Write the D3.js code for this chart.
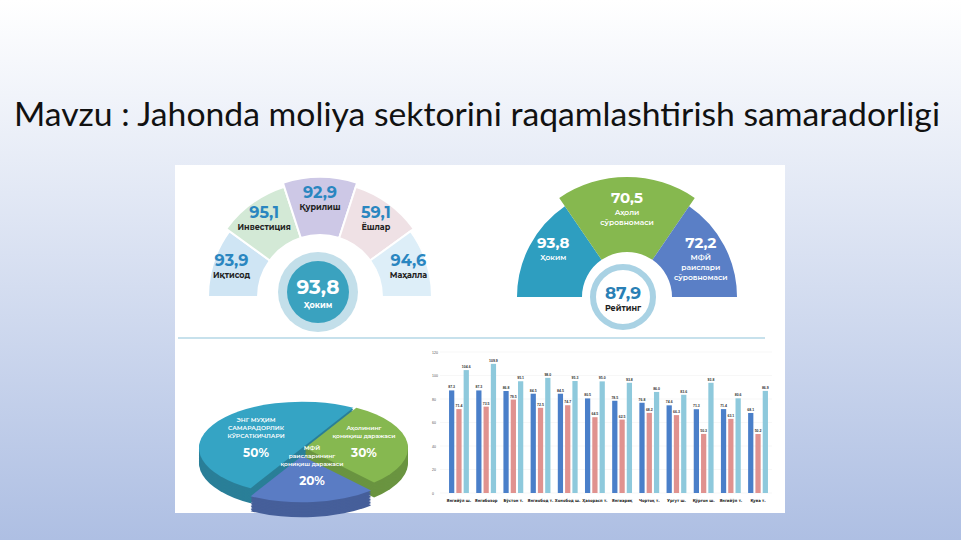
<!DOCTYPE html><html><head><meta charset="utf-8"><script src="https://cdn.jsdelivr.net/npm/d3@7"></script>
<style>body{margin:0;overflow:hidden}</style></head><body><svg id="s" width="961" height="540"></svg><script>
const title="Mavzu : Jahonda moliya sektorini raqamlashtirish samaradorligi";
const fanLabels=["Иқтисод","Инвестиция","Қурилиш","Ёшлар","Маҳалла"];
const fanValues=["93,9","95,1","92,9","59,1","94,6"];
const fanColors=["#cfe5f4","#d3e9d6","#cdc8e6","#efe1e5","#ddeef8"];
const fanCenter=["93,8","Ҳоким"];
const rLabels=[["Ҳоким"],["Аҳоли","сўровномаси"],["МФЙ","раислари","сўровномаси"]];
const rValues=["93,8","70,5","72,2"];
const rColors=["#2e9ec0","#86b84f","#5a7fc6"];
const rCenter=["87,9","Рейтинг"];
const pieLabels=[["ЭНГ МУҲИМ","САМАРАДОРЛИК","КЎРСАТКИЧЛАРИ"],["Аҳолининг","қониқиш даражаси"],["МФЙ","раисларининг","қониқиш даражаси"]];
const pieValues=[50,30,20];
const pieColors=["#35a4c4","#86b850","#5a7cc4"];
const pieSide=["#2a7f98","#6a9440","#465f9a"];
const cats=["Янгийўл ш.","Янгибозор","Бўстон т.","Янгиобод т.","Хонобод ш.","Ҳазорасп т.","Янгиариқ","Чортоқ т.","Ургут ш.","Қўрғон ш.","Янгийўл т.","Қува т."];
const s1=[87.3,87.3,86.8,84.5,84.5,80.5,78.5,76.8,74.6,71.3,71.4,68.1];
const s2=[71.4,73.5,79.5,72.5,74.7,64.5,62.5,68.2,66.3,50.3,63.1,50.2];
const s3=[104.6,109.9,95.1,98.0,95.3,95.0,93.8,86.0,83.6,93.8,80.6,86.9];
const yTicks=[0,20,40,60,80,100,120];
const sColors=["#4a7fc9","#e0928f","#8ec9dc"];

const svg=d3.select("#s");
const defs=svg.append("defs");
const g=defs.append("linearGradient").attr("id","bg").attr("x1",0).attr("y1",0).attr("x2",0).attr("y2",1);
g.append("stop").attr("offset",0).attr("stop-color","#ffffff");
g.append("stop").attr("offset",1).attr("stop-color","#aebfe3");
svg.append("rect").attr("width",961).attr("height",540).attr("fill","url(#bg)");
svg.append("text").attr("x",477).attr("y",126).attr("text-anchor","middle").attr("font-family","Lato, 'Open Sans', sans-serif").attr("font-size",33).attr("textLength",926).attr("lengthAdjust","spacingAndGlyphs").attr("fill","#111").text(title);
svg.append("rect").attr("x",175).attr("y",165).attr("width",610).attr("height",348).attr("fill","#fff");
svg.append("line").attr("x1",178).attr("x2",765).attr("y1",338).attr("y2",338).attr("stroke","#8fc3d9").attr("stroke-width",1);
const F="Montserrat, 'Open Sans', sans-serif";

// fan 1
{const cx=320,cy=297;const a=d3.scaleLinear().domain([0,5]).range([-Math.PI/2,Math.PI/2]);
const gr=svg.append("g").attr("transform",`translate(${cx},${cy})`);
const radii=[112,116,120,116,112];
fanValues.forEach((v,i)=>{
 const arc=d3.arc().innerRadius(62).outerRadius(radii[i]).startAngle(a(i)).endAngle(a(i+1));
 gr.append("path").attr("d",arc()).attr("fill",fanColors[i]).attr("stroke","#fff").attr("stroke-width",2);
 const m=(a(i)+a(i+1))/2,rr=(62+radii[i])/2+6;
 const x=Math.sin(m)*rr,y=-Math.cos(m)*rr;
 gr.append("text").attr("x",x).attr("y",y-2).attr("text-anchor","middle").attr("font-family",F).attr("font-weight",700).attr("font-size",16).attr("fill","#2a86c0").text(v);
 gr.append("text").attr("x",x).attr("y",y+10).attr("text-anchor","middle").attr("font-family",F).attr("font-weight",700).attr("font-size",8).attr("fill","#222").text(fanLabels[i]);
});
gr.append("circle").attr("cx",-2).attr("cy",-5).attr("r",40).attr("fill","#c3dfea");
gr.append("circle").attr("cx",-2).attr("cy",-5).attr("r",31).attr("fill","#3aa2bf");
gr.append("text").attr("x",-2).attr("y",-3).attr("text-anchor","middle").attr("font-family",F).attr("font-weight",700).attr("font-size",20).attr("fill","#fff").text(fanCenter[0]);
gr.append("text").attr("x",-2).attr("y",11).attr("text-anchor","middle").attr("font-family",F).attr("font-weight",700).attr("font-size",8).attr("fill","#fff").text(fanCenter[1]);}

// fan 2
{const cx=627,cy=297;const angs=[-Math.PI/2,-0.6,0.6,Math.PI/2];const radii=[110,120,110];
const gr=svg.append("g").attr("transform",`translate(${cx},${cy})`);
rValues.forEach((v,i)=>{
 const arc=d3.arc().innerRadius(45).outerRadius(radii[i]).startAngle(angs[i]).endAngle(angs[i+1]);
 gr.append("path").attr("d",arc()).attr("fill",rColors[i]);
 const m=(angs[i]+angs[i+1])/2,rr=i==1?82:80;
 const x=Math.sin(m)*rr+(i==0?-3:i==2?3:0),y=-Math.cos(m)*rr-12;
 gr.append("text").attr("x",x).attr("y",y).attr("text-anchor","middle").attr("font-family",F).attr("font-weight",700).attr("font-size",15).attr("fill","#fff").text(v);
 rLabels[i].forEach((l,j)=>gr.append("text").attr("x",x).attr("y",y+12+j*10).attr("text-anchor","middle").attr("font-family",F).attr("font-weight",600).attr("font-size",7.5).attr("fill","#fff").text(l));
});
gr.append("circle").attr("cx",-4).attr("cy",0).attr("r",38).attr("fill","#fff");
gr.append("circle").attr("cx",-4).attr("cy",0).attr("r",30).attr("fill","none").attr("stroke","#a9d2e4").attr("stroke-width",6);
gr.append("text").attr("x",-4).attr("y",2).attr("text-anchor","middle").attr("font-family",F).attr("font-weight",700).attr("font-size",17).attr("fill","#2a7fb5").text(rCenter[0]);
gr.append("text").attr("x",-4).attr("y",14).attr("text-anchor","middle").attr("font-family",F).attr("font-weight",700).attr("font-size",8).attr("fill","#222").text(rCenter[1]);}

// 3D pie
{const cx=302,cy=448,sy=0.45;const st=-2.62;
const pie=d3.pie().sort(null).startAngle(st).endAngle(st+2*Math.PI)(pieValues);
const arcT=d3.arc().innerRadius(0).outerRadius(103);
const gr=svg.append("g").attr("transform",`translate(${cx},${cy})`);
const off=[[0,0],[3,0],[0,8]];
const draw=(i,dy,col)=>gr.append("path").attr("transform",`translate(${off[i][0]},${off[i][1]+dy}) scale(1,${sy})`).attr("d",arcT(pie[i])).attr("fill",col);
[0,1,2].forEach(i=>{for(let d=15;d>0;d-=1.5)draw(i,d,pieSide[i]);draw(i,0,pieColors[i]);});
const lp=[[-46,-2],[62,-2],[10,26]];
pieLabels.forEach((ls,i)=>{ls.forEach((l,j)=>gr.append("text").attr("x",lp[i][0]).attr("y",lp[i][1]-(ls.length)*8+j*8).attr("text-anchor","middle").attr("font-family",F).attr("font-weight",600).attr("font-size",6).attr("fill","#fff").text(l));
 gr.append("text").attr("x",lp[i][0]).attr("y",lp[i][1]+11).attr("text-anchor","middle").attr("font-family",F).attr("font-weight",700).attr("font-size",12).attr("fill","#fff").text(pieValues[i]+"%");});}

// bars
{const x0=d3.scaleBand().domain(cats).range([447,770]).paddingInner(0.12);
const x1=d3.scaleBand().domain([0,1,2]).range([0,x0.bandwidth()]).padding(0.28);
const y=d3.scaleLinear().domain([0,120]).range([493,352]);
const gr=svg.append("g");
yTicks.forEach(t=>{gr.append("line").attr("x1",440).attr("x2",772).attr("y1",y(t)).attr("y2",y(t)).attr("stroke","#eee").attr("stroke-width",0.5);
 gr.append("text").attr("x",432).attr("y",y(t)+1.5).attr("font-size",3.5).attr("font-family","sans-serif").attr("fill","#555").text(t);});
[s1,s2,s3].forEach((s,k)=>s.forEach((v,i)=>{const bx=x0(cats[i])+x1(k);
 gr.append("rect").attr("x",bx).attr("y",y(v)).attr("width",x1.bandwidth()).attr("height",y(0)-y(v)).attr("fill",sColors[k]);
 gr.append("text").attr("x",bx+x1.bandwidth()/2).attr("y",y(v)-2).attr("text-anchor","middle").attr("font-size",3.5).attr("font-weight",700).attr("font-family","sans-serif").attr("fill","#333").text(v.toFixed(1));}));
cats.forEach(c=>gr.append("text").attr("x",x0(c)+x0.bandwidth()/2).attr("y",502).attr("text-anchor","middle").attr("font-size",4.2).attr("font-weight",700).attr("font-family","'DejaVu Sans Condensed',sans-serif").attr("fill","#222").text(c));}
</script></body></html>
